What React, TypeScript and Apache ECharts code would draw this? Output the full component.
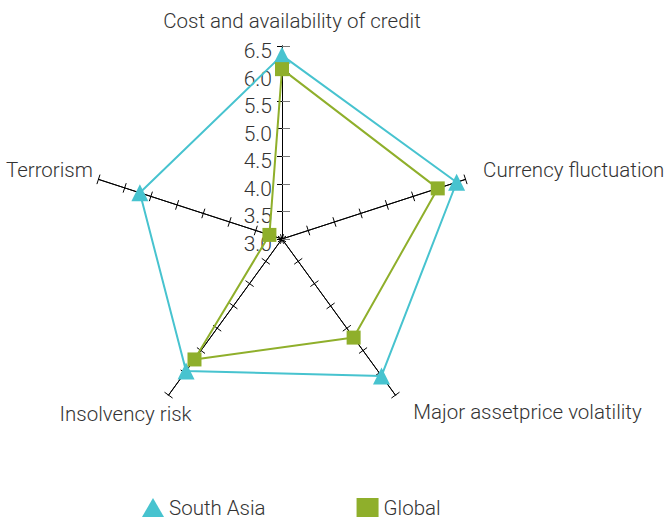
import React, { useEffect, useRef } from "react";
import * as echarts from "echarts";

const indicators = [
  "Cost and availability of credit",
  "Terrorism",
  "Insolvency risk",
  "Major assetprice volatility",
  "Currency fluctuation",
];
const southAsia = [6.33, 5.71, 5.96, 6.07, 6.33];
const globalVals = [6.08, 3.24, 5.7, 5.21, 5.97];
const yTicks = [3.0, 3.5, 4.0, 4.5, 5.0, 5.5, 6.0, 6.5];

const AXIS_MIN = yTicks[0];
const AXIS_MAX = yTicks[yTicks.length - 1];

// per-indicator name nudges (padding: top, right, bottom, left)
const namePads: number[][] = [
  [0, 0, 5, 20],
  [0, -4, 12, 0],
  [22, -29, 0, 0],
  [18, 0, 0, 12],
  [0, 0, 12, 8],
];

export default function App() {
  const ref = useRef<HTMLDivElement>(null);
  useEffect(() => {
    if (!ref.current) return;
    document.body.style.margin = "0";
    const chart = echarts.init(ref.current, undefined, { renderer: "svg" });
    const cx = 282;
    const cy = 239;
    const r = 193;
    const font = "Roboto";
    const fw = 300;
    const nameSize = 20.5;
    const ind = indicators.map((n) => ({ name: n, min: AXIS_MIN, max: AXIS_MAX }));
    const rich: Record<string, any> = {};
    namePads.forEach((p, i) => {
      rich["n" + i] = { padding: p, fontSize: nameSize, fontWeight: fw, color: "#333", fontFamily: font };
    });
    const radarBase = {
      indicator: ind,
      center: [cx, cy],
      radius: r,
      startAngle: 90,
      splitNumber: yTicks.length - 1,
      shape: "polygon",
      splitLine: { show: false },
      splitArea: { show: false },
      axisLabel: { show: false },
      axisLine: { show: true, lineStyle: { color: "#000", width: 1 } },
    };
    chart.setOption({
      animation: false,
      textStyle: { fontFamily: font },
      legend: {
        left: 137,
        top: 492,
        itemWidth: 22,
        itemHeight: 19,
        itemGap: 91,
        textStyle: { fontSize: 20.5, color: "#333", fontFamily: font, fontWeight: fw },
        data: [
          { name: "South Asia", icon: "triangle" },
          { name: "Global", icon: "rect" },
        ],
      },
      grid: { left: cx, top: cy - r, width: 1, height: r },
      xAxis: { type: "value", show: false },
      yAxis: {
        type: "value",
        min: AXIS_MIN,
        max: AXIS_MAX,
        interval: 0.5,
        axisLine: { show: false },
        splitLine: { show: false },
        axisTick: { show: true, inside: true, length: 8, lineStyle: { color: "#777" } },
        axisLabel: {
          color: "#333",
          fontFamily: font,
          fontWeight: fw,
          margin: 10,
          formatter: (v: number) => `{v|${v.toFixed(1)}}`,
          rich: {
            v: { fontSize: 21, color: "#333", fontFamily: font, fontWeight: fw, padding: [10, 0, 0, 0] },
          },
        },
      },
      radar: [
        {
          ...radarBase,
          axisName: {
            color: "#333",
            fontSize: nameSize,
            fontFamily: font,
            fontWeight: fw,
            formatter: (name: string) => `{n${indicators.indexOf(name)}|${name}}`,
            rich,
          },
          nameGap: 10,
          axisTick: { show: true, length: 5, lineStyle: { color: "#000" } },
        },
        {
          ...radarBase,
          axisName: { show: false },
          axisTick: { show: true, length: -5, lineStyle: { color: "#000" } },
        },
      ],
      series: [
        {
          type: "radar",
          radarIndex: 0,
          name: "South Asia",
          symbol: "triangle",
          symbolSize: 17,
          itemStyle: { color: "#47C3CF" },
          lineStyle: { color: "#47C3CF", width: 2 },
          data: [{ value: southAsia, name: "South Asia" }],
          z: 3,
        },
        {
          type: "radar",
          radarIndex: 0,
          name: "Global",
          symbol: "rect",
          symbolSize: 14,
          itemStyle: { color: "#8FAF2B" },
          lineStyle: { color: "#8FAF2B", width: 2 },
          data: [{ value: globalVals, name: "Global" }],
          z: 4,
        },
      ],
    });
    return () => chart.dispose();
  }, []);
  return (
    <div
      ref={ref}
      style={{ position: "absolute", left: 0, top: 0, width: 669, height: 521 }}
    />
  );
}
